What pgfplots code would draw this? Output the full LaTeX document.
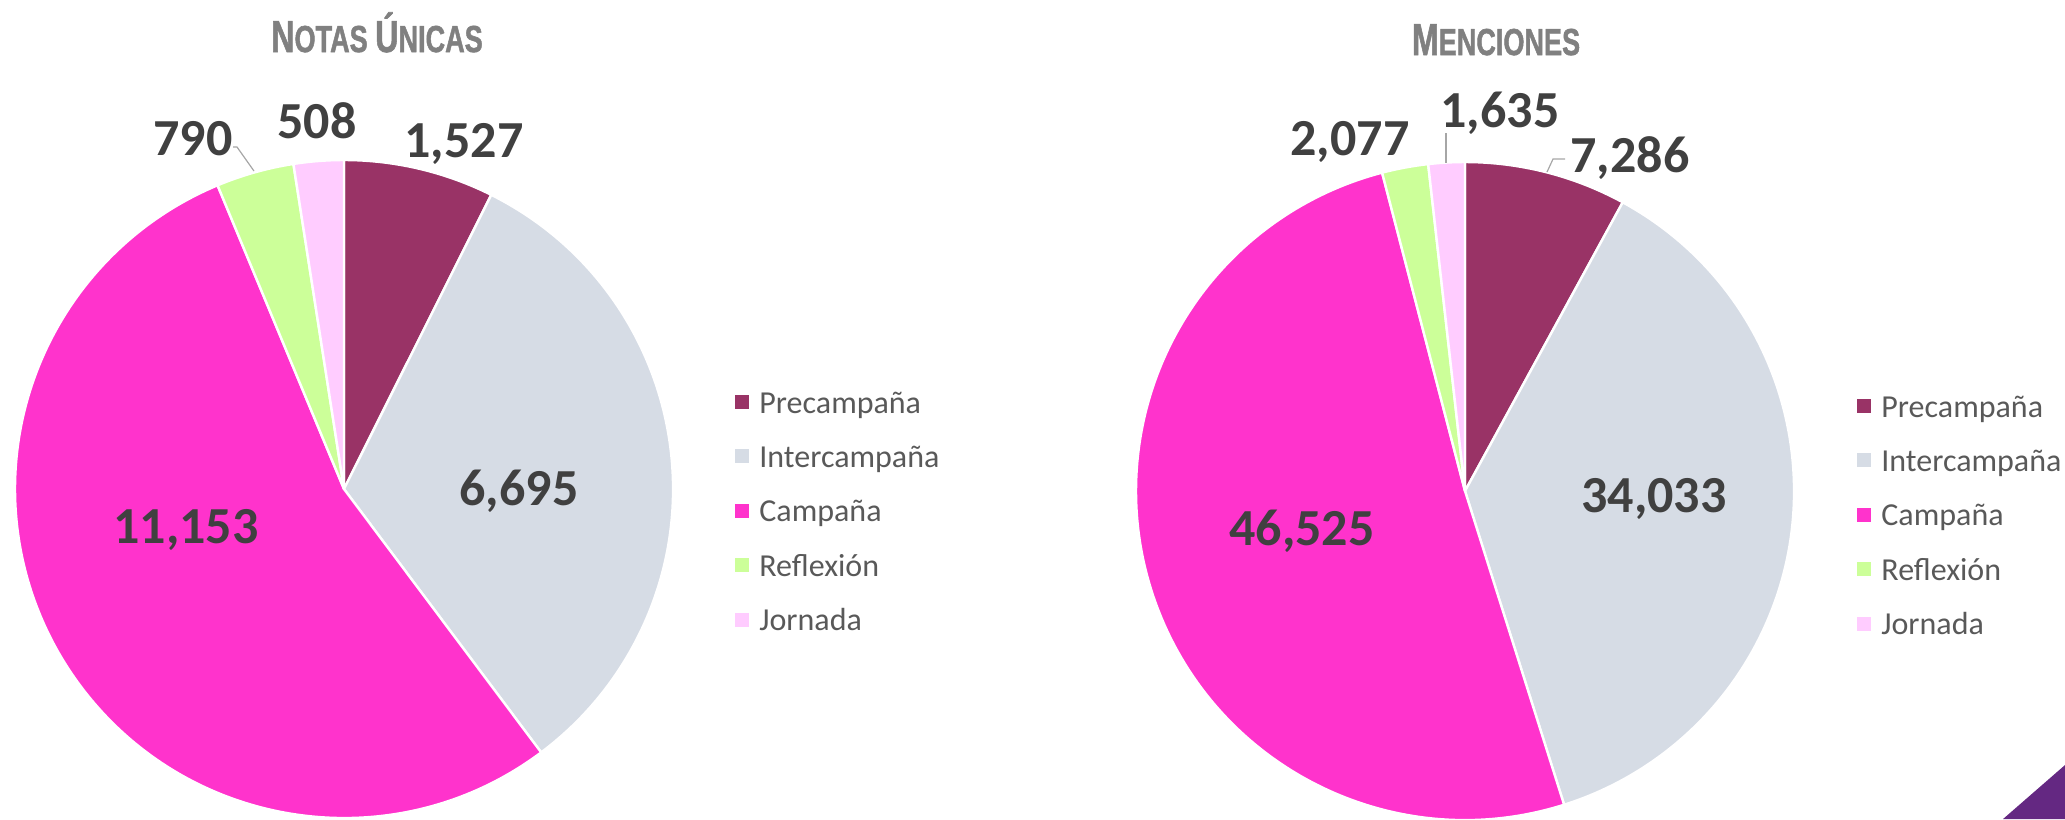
\documentclass[border=0pt]{standalone}
\usepackage{pgfplots}
\pgfplotsset{compat=1.18}
\usepackage{pgfplotstable}
\usepackage{graphicx}
\usepackage{fontspec}
\setmainfont{Carlito}
\newfontfamily\titlefont{Liberation Sans}[BoldFeatures={FakeBold=1.6}]

\definecolor{slice0}{HTML}{993366}
\definecolor{slice1}{HTML}{D6DCE5}
\definecolor{slice2}{HTML}{FF33CC}
\definecolor{slice3}{HTML}{CCFF99}
\definecolor{slice4}{HTML}{FFCCFF}
\definecolor{labcol}{HTML}{404040}
\definecolor{legcol}{HTML}{595959}
\definecolor{titlecol}{HTML}{808080}
\definecolor{leadcol}{HTML}{A6A6A6}
\definecolor{corner}{HTML}{642882}

\pgfplotstableread{
cat value
Precampaña 1527
Intercampaña 6695
Campaña 11153
Reflexión 790
Jornada 508
}\notas

\pgfplotstableread{
cat value
Precampaña 7286
Intercampaña 34033
Campaña 46525
Reflexión 2077
Jornada 1635
}\menciones

% slices clockwise from 12 o'clock; #1 table, #2,#3 centre (axis cs), #4 radius
\newcommand{\drawpie}[4]{%
  \pgfplotstablegetrowsof{#1}%
  \pgfmathtruncatemacro{\nlast}{\pgfplotsretval-1}%
  \gdef\pietot{0}%
  \foreach \i in {0,...,\nlast}{%
    \pgfplotstablegetelem{\i}{value}\of{#1}%
    \xdef\pietot{\fpeval{\pietot+\pgfplotsretval}}%
  }%
  \gdef\piea{90}%
  \foreach \i in {0,...,\nlast}{%
    \pgfplotstablegetelem{\i}{value}\of{#1}%
    \xdef\pieb{\fpeval{\piea-360*\pgfplotsretval/\pietot}}%
    \fill[fill=slice\i, draw=white, line width=0.6pt, line join=round]
      (axis cs:#2,#3) -- ++(\piea:#4) arc[start angle=\piea, end angle=\pieb, radius=#4] -- cycle;
    \xdef\piea{\pieb}%
  }%
}

\newcommand{\bigc}[1]{{\fontsize{11.2}{12}\selectfont #1}}
\newcommand{\smc}[1]{{\fontsize{9.4}{10}\selectfont #1}}

\tikzset{
  lab/.style={font=\fontsize{13}{13}\selectfont\bfseries, text=labcol, anchor=base, inner sep=0pt},
  ttl/.style={font=\titlefont\bfseries, text=titlecol, anchor=base, inner sep=0pt},
  lead/.style={draw=leadcol, line width=0.3pt},
}

\pgfplotsset{
  piebox/.style={
    scale only axis, height=204.75pt, ymin=0, ymax=819, y dir=reverse,
    hide axis, clip=false,
    legend image code/.code={\fill[##1, draw=none] (0pt,-1pt) rectangle (3.5pt,2.5pt);},
    legend style={draw=none, fill=none, inner sep=0pt, outer sep=0pt,
      column sep=2.6pt, row sep=5.6pt,
      font=\fontsize{8}{8}\selectfont, text=legcol,
      cells={anchor=west},
      nodes={inner sep=0pt, text height=6pt, text depth=2pt}},
  },
}

\begin{document}
\begin{tikzpicture}
\begin{axis}[piebox, width=258pt, xmin=0, xmax=1032,
  legend style={at={(axis cs:735,389)}, anchor=north west}]
\pgfplotsextra{\drawpie{\notas}{344}{489}{82.25pt}}
\addlegendimage{slice0}\addlegendentry{Precampaña}
\addlegendimage{slice1}\addlegendentry{Intercampaña}
\addlegendimage{slice2}\addlegendentry{Campaña}
\addlegendimage{slice3}\addlegendentry{Reflexión}
\addlegendimage{slice4}\addlegendentry{Jornada}
\node[ttl] at (axis cs:377,52) {\scalebox{0.72}[1]{\bigc{N}\smc{OTAS }\bigc{Ú}\smc{NICAS}}};
\node[lab] at (axis cs:464,157) {1,527};
\node[lab] at (axis cs:519,505) {6,695};
\node[lab] at (axis cs:186,543) {11,153};
\node[lab] at (axis cs:193,155) {790};
\node[lab] at (axis cs:317,138) {508};
\draw[lead] (axis cs:233,147) -- (axis cs:237,147) -- (axis cs:254,171);
\end{axis}
\begin{axis}[piebox, width=258.25pt, xmin=1032, xmax=2065, at={(258pt,0pt)},
  legend style={at={(axis cs:1857,393)}, anchor=north west}]
\pgfplotsextra{\drawpie{\menciones}{1465}{491}{82.25pt}}
\addlegendimage{slice0}\addlegendentry{Precampaña}
\addlegendimage{slice1}\addlegendentry{Intercampaña}
\addlegendimage{slice2}\addlegendentry{Campaña}
\addlegendimage{slice3}\addlegendentry{Reflexión}
\addlegendimage{slice4}\addlegendentry{Jornada}
\node[ttl] at (axis cs:1496,55) {\scalebox{0.72}[1]{\bigc{M}\smc{ENCIONES}}};
\node[lab] at (axis cs:1630,172) {7,286};
\node[lab] at (axis cs:1654,512) {34,033};
\node[lab] at (axis cs:1302,545) {46,525};
\node[lab] at (axis cs:1350,155) {2,077};
\node[lab] at (axis cs:1500,127) {1,635};
\draw[lead] (axis cs:1446,133) -- (axis cs:1446,163);
\draw[lead] (axis cs:1565,159) -- (axis cs:1553,159) -- (axis cs:1547,172);
\fill[corner] (axis cs:2003,819) -- (axis cs:2065,765) -- (axis cs:2065,819) -- cycle;
\end{axis}
\pgfresetboundingbox
\path (0pt,0pt) rectangle (516.25pt,204.75pt);
\end{tikzpicture}
\end{document}
